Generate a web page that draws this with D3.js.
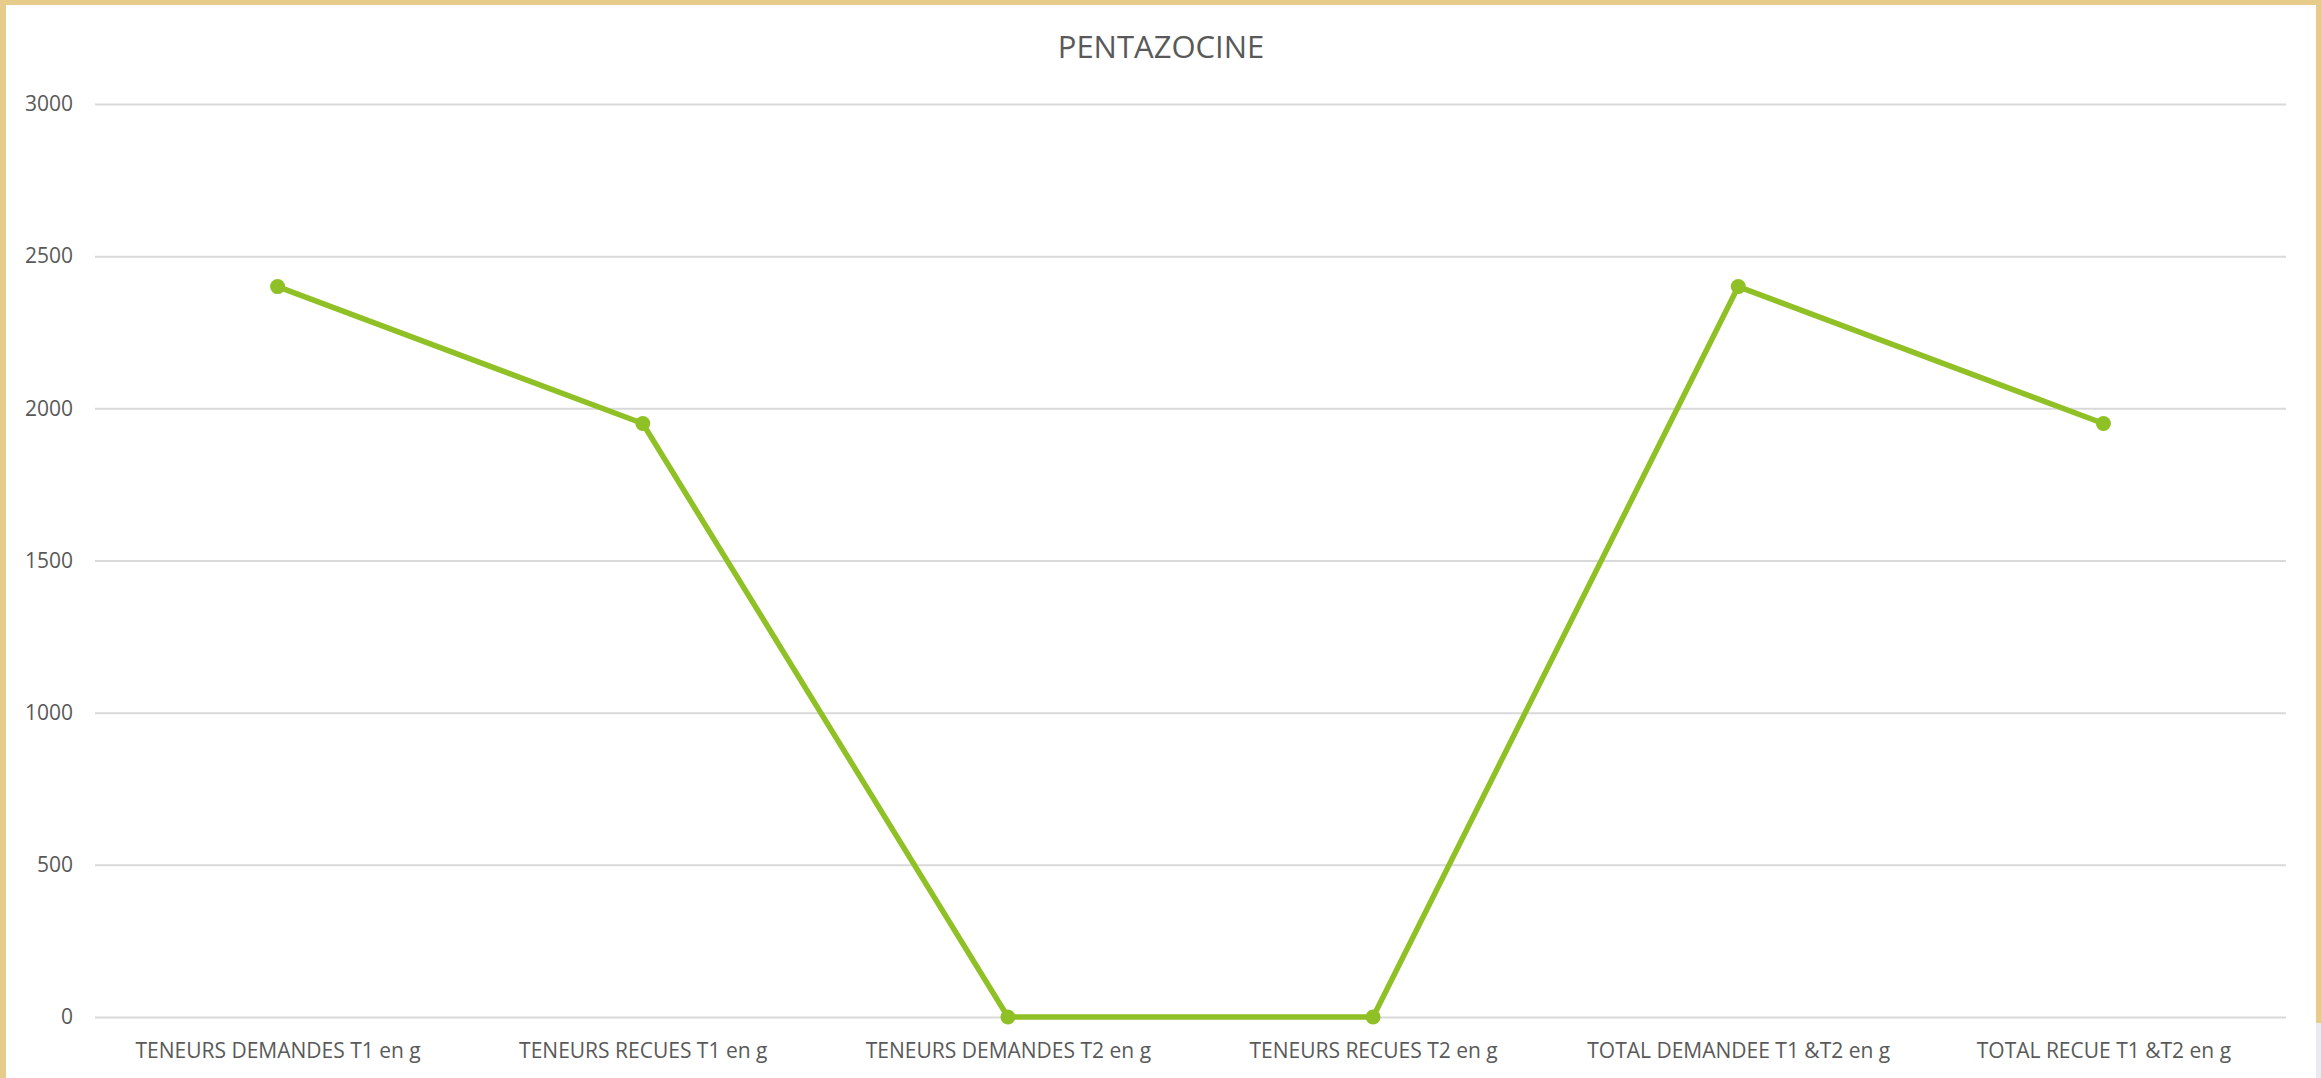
<!DOCTYPE html>
<html>
  <head>
    <meta charset="utf-8">
    <style>
      body { margin: 0; background: #fff; }
      text { font-family: "Open Sans", "DejaVu Sans", sans-serif; }
    </style>
  </head>
  <body>
    <div id='chart'></div>
    <script src="https://cdn.jsdelivr.net/npm/d3@7"></script>
    <script>

    var categories = [
      'TENEURS DEMANDES T1 en g',
      'TENEURS RECUES T1 en g',
      'TENEURS DEMANDES T2 en g',
      'TENEURS RECUES T2 en g',
      'TOTAL DEMANDEE T1 &T2 en g',
      'TOTAL RECUE T1 &T2 en g'
    ];
    var values = [2400, 1950, 0, 0, 2400, 1950];
    var yTicks = [0, 500, 1000, 1500, 2000, 2500, 3000];
    var title = 'PENTAZOCINE';

    var W = 2321, H = 1078;
    var margin = {top: 104, right: 35, bottom: 61, left: 95};
    var green = '#8fc126';

    var svg = d3.select('#chart').append('svg')
        .attr('width', W)
        .attr('height', H);

    // tan frame round the white chart area
    svg.append('rect').attr('width', W).attr('height', H).attr('fill', '#e6cb8b');
    svg.append('rect')
        .attr('x', 6).attr('y', 5)
        .attr('width', 2316 - 6).attr('height', H - 5)
        .attr('fill', '#fff');
    svg.append('rect')
        .attr('x', 2316).attr('y', 1023)
        .attr('width', 5).attr('height', H - 1023)
        .attr('fill', '#eceaf1');

    var x = d3.scalePoint()
        .domain(categories)
        .range([margin.left, W - margin.right])
        .padding(0.5);

    var y = d3.scaleLinear()
        .domain([0, 3000])
        .range([H - margin.bottom, margin.top]);

    // gridlines
    svg.append('g')
        .attr('transform', 'translate(' + margin.left + ',0)')
        .call(d3.axisLeft(y).tickValues(yTicks).tickSize(-(W - margin.left - margin.right)).tickFormat(''))
        .call(function(g){ g.select('.domain').remove() })
        .selectAll('line')
        .attr('stroke', '#d9d9d9')
        .attr('stroke-width', 2);

    // y labels
    var yAxis = svg.append('g')
        .attr('transform', 'translate(' + margin.left + ',0)')
        .call(d3.axisLeft(y).tickValues(yTicks).tickFormat(d3.format('d')).tickSize(0).tickPadding(22));
    yAxis.select('.domain').remove();
    yAxis.selectAll('text')
        .attr('fill', '#595959')
        .style('font-size', '21px');

    // x labels
    var xAxis = svg.append('g')
        .attr('transform', 'translate(0,' + y(0) + ')')
        .call(d3.axisBottom(x).tickSize(0).tickPadding(26));
    xAxis.select('.domain').remove();
    xAxis.selectAll('text')
        .attr('fill', '#595959')
        .style('font-size', '21px');

    // series line
    var line = d3.line()
        .x(function(d, i){ return x(categories[i]) })
        .y(function(d){ return y(d) });

    svg.append('path')
        .datum(values)
        .attr('d', line)
        .attr('fill', 'none')
        .attr('stroke', green)
        .attr('stroke-width', 5.5)
        .attr('stroke-linejoin', 'round');

    svg.selectAll('.dot')
        .data(values)
        .enter()
        .append('circle')
        .attr('class', 'dot')
        .attr('cx', function(d, i){ return x(categories[i]) })
        .attr('cy', function(d){ return y(d) })
        .attr('r', 7.5)
        .attr('fill', green);

    // title
    svg.append('text')
        .attr('x', 1161)
        .attr('y', 58)
        .attr('text-anchor', 'middle')
        .attr('fill', '#595959')
        .style('font-size', '31px')
        .text(title);

    </script>
  </body>
</html>
